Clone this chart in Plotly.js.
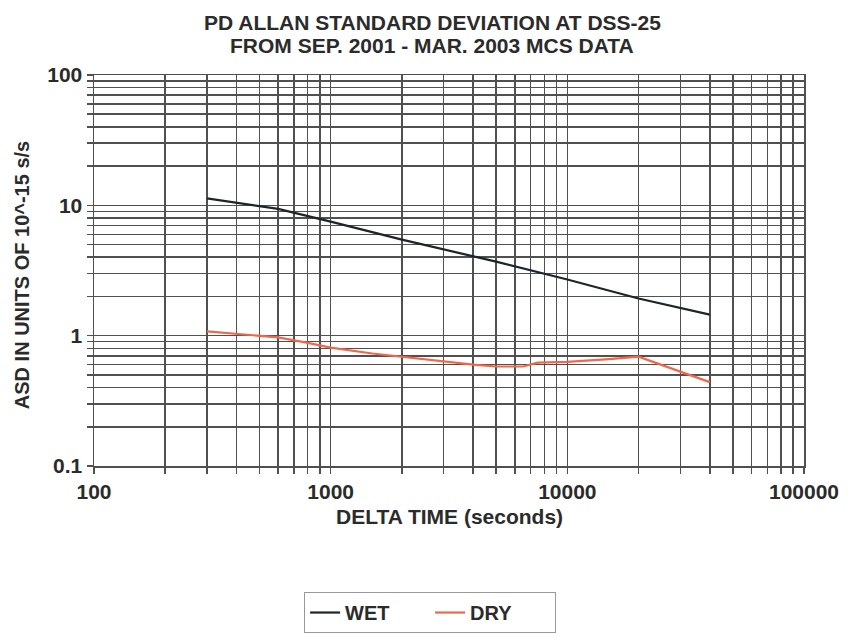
<!DOCTYPE html>
<html>
<head>
<meta charset="utf-8">
<script src="https://cdn.plot.ly/plotly-3.0.1.min.js"></script>
<style>
  html, body { margin: 0; padding: 0; background: #fff; }
  #chart { width: 850px; height: 637px; }
</style>
</head>
<body>
<div id="chart"></div>
<script>
// Averaging interval (seconds) and Allan standard deviation (units of 1e-15 s/s)
const wetTau = [300, 600, 1000, 2000, 5000, 10000, 20000, 40000];
const wetAsd = [11.3, 9.4, 7.5, 5.45, 3.7, 2.7, 1.93, 1.45];

const dryTau = [300, 400, 600, 800, 1000, 1500, 2000, 3000, 4000, 5000, 6500, 7500, 10000, 15000, 20000, 30000, 40000];
const dryAsd = [1.08, 1.03, 0.97, 0.88, 0.81, 0.73, 0.69, 0.63, 0.6, 0.58, 0.58, 0.62, 0.63, 0.66, 0.69, 0.53, 0.44];

const xTickVals = [100, 1000, 10000, 100000];
const xTickText = ['100', '1000', '10000', '100000'];
const yTickVals = [0.1, 1, 10, 100];
const yTickText = ['0.1', '1', '10', '100'];

const titleLine1 = 'PD ALLAN STANDARD DEVIATION AT DSS-25';
const titleLine2 = 'FROM SEP. 2001 - MAR. 2003 MCS DATA';
const xTitle = 'DELTA TIME (seconds)';
const yTitle = 'ASD IN UNITS OF 10^-15 s/s';

const gridColor = '#505050';
const textColor = '#2b2b2b';
const font = 'Liberation Sans, Arial, sans-serif';

const traces = [
  { x: wetTau, y: wetAsd, name: 'WET', mode: 'lines', type: 'scatter',
    line: { color: '#1c252b', width: 2.2 } },
  { x: dryTau, y: dryAsd, name: 'DRY', mode: 'lines', type: 'scatter',
    line: { color: '#f0674a', width: 2.2 } }
];

const axisCommon = {
  type: 'log',
  showline: true, linecolor: gridColor, linewidth: 1.5, mirror: true,
  showgrid: true, gridcolor: gridColor, gridwidth: 1.5,
  ticks: 'outside', ticklen: 6, tickcolor: gridColor, tickwidth: 1.5,
  tickfont: { family: font, size: 21, color: textColor, weight: 'bold' },
  zeroline: false,
  minor: { dtick: 'D1', showgrid: true, gridcolor: gridColor, gridwidth: 1.5,
           ticks: 'outside', ticklen: 6, tickcolor: gridColor, tickwidth: 1.5 }
};

const bold = t => '<b>' + t + '</b>';

const layout = {
  width: 850, height: 637,
  paper_bgcolor: '#fff', plot_bgcolor: '#fff',
  margin: { l: 94, r: 46, t: 75, b: 171, autoexpand: false },
  xaxis: Object.assign({}, axisCommon, {
    range: [2, 5], tickmode: 'array', tickvals: xTickVals, ticktext: xTickText
  }),
  yaxis: Object.assign({}, axisCommon, {
    range: [-1, 2], tickmode: 'array', tickvals: yTickVals, ticktext: yTickText
  }),
  annotations: [
    { text: bold(titleLine1), xref: 'paper', yref: 'paper', x: 0.4768, y: 1.1355,
      xanchor: 'center', yanchor: 'middle', showarrow: false,
      font: { family: font, size: 21, color: textColor } },
    { text: bold(titleLine2), xref: 'paper', yref: 'paper', x: 0.4754, y: 1.0742,
      xanchor: 'center', yanchor: 'middle', showarrow: false,
      font: { family: font, size: 21, color: textColor } },
    { text: bold(xTitle), xref: 'paper', yref: 'paper', x: 0.5014, y: -0.1304,
      xanchor: 'center', yanchor: 'middle', showarrow: false,
      font: { family: font, size: 21, color: textColor } },
    { text: bold(yTitle), xref: 'paper', yref: 'paper', x: -0.1014, y: 0.488,
      xanchor: 'center', yanchor: 'middle', showarrow: false, textangle: -90,
      font: { family: font, size: 20, color: textColor } }
  ],
  showlegend: true,
  legend: {
    orientation: 'h', xref: 'container', yref: 'container',
    x: 0.506, xanchor: 'center', y: 0.0706, yanchor: 'top',
    bordercolor: '#999', borderwidth: 1, bgcolor: '#fff',
    entrywidth: 80, entrywidthmode: 'pixels',
    font: { family: font, size: 20, color: textColor, weight: 'bold' }
  }
};

Plotly.newPlot('chart', traces, layout, { displayModeBar: false, staticPlot: true });
</script>
</body>
</html>
